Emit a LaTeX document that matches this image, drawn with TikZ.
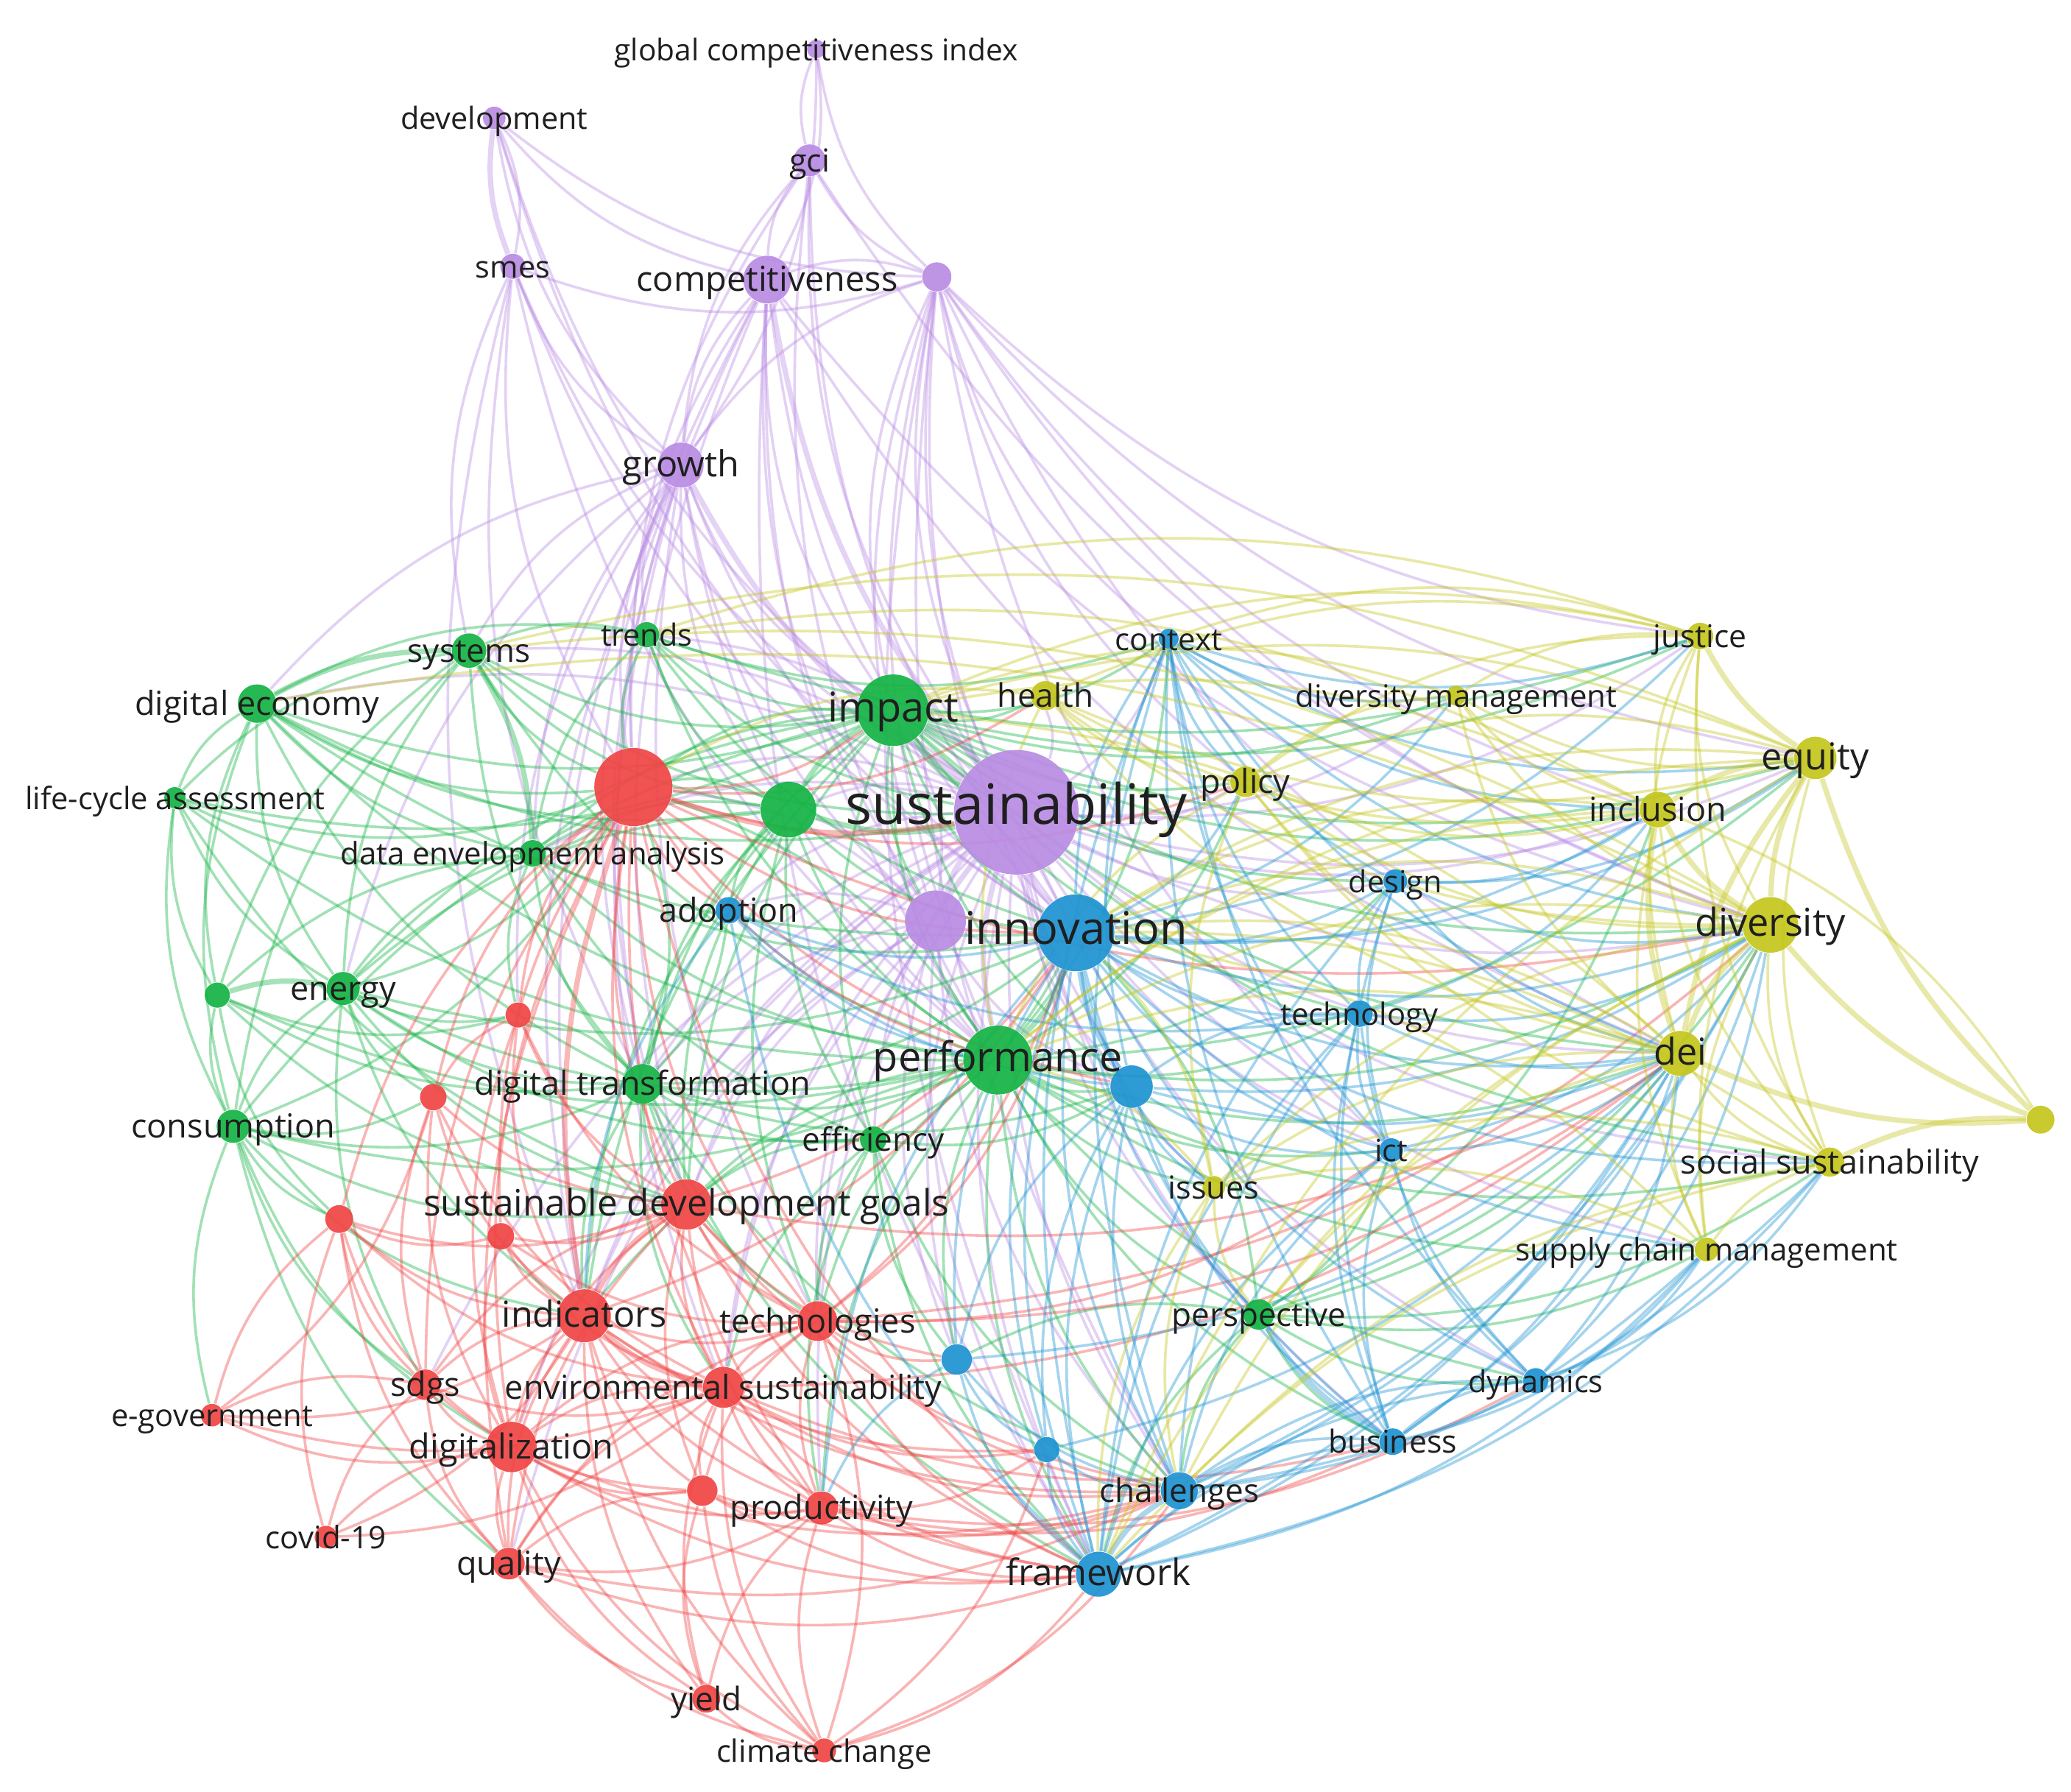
\documentclass[tikz,border=0pt]{standalone}
\usepackage{fontspec}
\setmainfont{Open Sans}
\pgfdeclarelayer{background}
\pgfdeclarelayer{foreground}
\pgfsetlayers{background,main,foreground}
\definecolor{cP}{RGB}{186,140,228}
\definecolor{cG}{RGB}{22,180,70}
\definecolor{cB}{RGB}{32,148,210}
\definecolor{cY}{RGB}{196,198,30}
\definecolor{cR}{RGB}{240,70,70}
\tikzset{
  kwnode/.style={circle, inner sep=0pt, draw=none, fill opacity=0.93},
  lab/.style={font=\fontsize{#1pt}{#1pt}\selectfont, text=black!88, inner sep=0pt, text height=0.72em, text depth=0.02em},
  edge/.style={opacity=0.4, line width=0.8pt},
  eP/.style={edge, draw=cP},
  eG/.style={edge, draw=cG},
  eB/.style={edge, draw=cB},
  eY/.style={edge, draw=cY},
  eR/.style={edge, draw=cR},
  thick edge/.style={line width=1.6pt, opacity=0.38}
}
% one unit = 0.4pt; sizes given in units are scaled by 0.4
\newcommand{\kw}[7]{%
  \pgfmathsetmacro\kwdiam{#5*0.4}%
  \pgfmathsetmacro\kwfs{#6*0.4}%
  \node[kwnode, fill=#2, minimum size=\kwdiam pt] (#1) at (#3,#4) {};
  \begin{pgfonlayer}{foreground}\node[lab=\kwfs] (#1-l) at (#3,#4) {#7};\end{pgfonlayer}}
\begin{document}
\begin{tikzpicture}[x=0.4pt,y=-0.4pt]
\useasboundingbox (0,0) rectangle (1563,1352.4);
% ---------- nodes ----------
% purple
\kw{gcix}{cP}{616}{37}{14}{22.6}{global competitiveness index}
\kw{dev}{cP}{373}{89}{17}{23}{development}
\kw{gci}{cP}{611}{121}{24}{24}{gci}
\kw{smes}{cP}{387}{201}{19}{23}{smes}
\kw{comp}{cP}{579}{211}{36}{26}{competitiveness}
\kw{p1}{cP}{707}{209}{22}{10}{}
\kw{growth}{cP}{514}{351}{34}{27}{growth}
\kw{sust}{cP}{767}{613}{94}{42}{sustainability}
\kw{p2}{cP}{706}{695}{46}{10}{}
% green
\kw{trends}{cG}{488}{479}{19}{23}{trends}
\kw{systems}{cG}{354}{491}{26}{24.5}{systems}
\kw{digeco}{cG}{194}{531}{29}{25}{digital economy}
\kw{impact}{cG}{674}{536}{54}{31}{impact}
\kw{lca}{cG}{132}{602}{16}{23.2}{life-cycle assessment}
\kw{g1}{cG}{595}{611}{42}{10}{}
\kw{dea}{cG}{402}{644}{20}{23.3}{data envelopment analysis}
\kw{g2}{cG}{164}{751}{19}{10}{}
\kw{energy}{cG}{259}{746}{25}{25}{energy}
\kw{digtr}{cG}{485}{818}{30}{25}{digital transformation}
\kw{perf}{cG}{753}{800}{52}{31}{performance}
\kw{cons}{cG}{176}{850}{25}{25}{consumption}
\kw{eff}{cG}{659}{860}{20}{24.5}{efficiency}
\kw{persp}{cG}{950}{992}{23}{24.5}{perspective}
% red
\kw{r1}{cR}{478}{594}{59}{10}{}
\kw{r2}{cR}{391}{766}{19}{10}{}
\kw{r3}{cR}{327}{828}{20}{10}{}
\kw{sdg}{cR}{518}{909}{38}{27.5}{sustainable development goals}
\kw{r4}{cR}{256}{920}{21}{10}{}
\kw{r5}{cR}{378}{933}{20}{10}{}
\kw{ind}{cR}{441}{993}{40}{27}{indicators}
\kw{tech}{cR}{617}{997}{30}{25}{technologies}
\kw{sdgs}{cR}{321}{1045}{23}{25}{sdgs}
\kw{envs}{cR}{546}{1047}{31}{25}{environmental sustainability}
\kw{egov}{cR}{160}{1068}{17}{23.2}{e-government}
\kw{digi}{cR}{386}{1092}{38}{26}{digitalization}
\kw{r6}{cR}{530}{1125}{23}{10}{}
\kw{prod}{cR}{620}{1138}{25}{25}{productivity}
\kw{covid}{cR}{246}{1160}{17}{23.4}{covid-19}
\kw{qual}{cR}{384}{1180}{24}{25}{quality}
\kw{yield}{cR}{533}{1282}{21}{24.5}{yield}
\kw{clim}{cR}{622}{1321}{18}{23.2}{climate change}
% blue
\kw{context}{cB}{882}{482}{15}{23.3}{context}
\kw{adopt}{cB}{550}{687}{20}{25}{adoption}
\kw{innov}{cB}{812}{704}{58}{34}{innovation}
\kw{design}{cB}{1053}{665}{18}{23}{design}
\kw{techn}{cB}{1026}{765}{20}{23.2}{technology}
\kw{b1}{cB}{854}{820}{32}{10}{}
\kw{ict}{cB}{1050}{868}{18}{23}{ict}
\kw{b2}{cB}{722}{1026}{23}{10}{}
\kw{dyn}{cB}{1159}{1042}{19}{23}{dynamics}
\kw{bus}{cB}{1051}{1088}{20}{23.8}{business}
\kw{b3}{cB}{790}{1094}{19}{10}{}
\kw{chall}{cB}{890}{1125}{28}{24.5}{challenges}
\kw{frame}{cB}{829}{1188}{34}{27.5}{framework}
% yellow
\kw{justice}{cY}{1283}{480}{20}{23.7}{justice}
\kw{health}{cY}{789}{525}{22}{24.5}{health}
\kw{divm}{cY}{1099}{525}{15}{23.3}{diversity management}
\kw{equity}{cY}{1370}{572}{32}{28}{equity}
\kw{policy}{cY}{940}{590}{23}{25}{policy}
\kw{incl}{cY}{1251}{611}{27}{25}{inclusion}
\kw{div}{cY}{1336}{698}{42}{29}{diversity}
\kw{dei}{cY}{1268}{795}{34}{28}{dei}
\kw{y1}{cY}{1540}{845}{21}{10}{}
\kw{socs}{cY}{1381}{877}{22}{25}{social sustainability}
\kw{issues}{cY}{916}{896}{17}{24}{issues}
\kw{scm}{cY}{1288}{943}{18}{23.4}{supply chain management}
% ---------- edges ----------
\begin{pgfonlayer}{background}
\fill[white] (0,0) rectangle (1563,1352.4);
% purple
\foreach \a/\b in {gcix/gci, comp/gcix, growth/gcix, gcix/p1, gci/comp, gci/p1, gci/growth, gci/sust, gci/innov, gci/r1, gci/div, gci/perf,
  smes/dev, dev/comp, dev/sust, dev/growth, dev/innov, dev/p1, smes/p1, smes/growth, smes/sust, smes/r1, smes/innov, smes/perf, smes/systems, smes/digtr, smes/ind,
  p1/comp, comp/growth, comp/impact, comp/innov, comp/perf, comp/p2, comp/r1, comp/ind, comp/sdg, comp/frame, comp/digtr, comp/div, comp/dei,
  p1/growth, p1/sust, p1/innov, p1/perf, p1/impact, p1/frame, p1/div, p1/p2, p1/b1, p1/chall, p1/ict, p1/equity, p1/dei, p1/incl, p1/justice, p1/context, p1/policy,
  growth/impact, growth/innov, growth/perf, growth/r1, growth/sdg, growth/ind, growth/digtr, growth/p2, growth/systems, growth/trends, growth/digeco, growth/g1, growth/tech, growth/envs, growth/dea, growth/energy, growth/r2,
  sust/div, sust/equity, sust/incl, sust/dei, sust/socs, sust/frame, sust/chall, sust/ind, sust/sdg, sust/r1, sust/g1, sust/digtr, sust/policy, sust/health, sust/tech, sust/envs, sust/digi, sust/prod, sust/context, sust/design, sust/ict, sust/b1, sust/scm, sust/justice, sust/divm, sust/bus,
  sust/dyn, sust/persp, sust/issues, sust/b2, sust/adopt, sust/eff, sust/dea, sust/systems, sust/digeco, sust/trends, sust/qual, sust/sdgs,
  p2/innov, p2/perf, p2/impact, p2/r1, p2/g1, p2/sdg, p2/ind, p2/frame, p2/chall, p2/b1, p2/b2, p2/digtr, p2/tech, p2/envs, p2/adopt}
  \draw[eP] (\a) to[bend right=18] (\b);
\foreach \a/\b in {comp/sust, growth/sust, sust/innov, sust/impact, sust/p2, sust/perf, dev/smes}
  \draw[eP, thick edge] (\a) to[bend right=14] (\b);
% green
\foreach \a/\b in {trends/systems, trends/impact, trends/r1, trends/digeco, trends/g1, trends/sust, trends/dea, trends/perf, trends/innov, trends/justice, trends/context,
  systems/impact, systems/r1, systems/energy, systems/cons, systems/lca, systems/g1, systems/digtr, systems/g2, systems/perf, systems/sust,
  digeco/lca, digeco/impact, digeco/energy, digeco/g2, digeco/r1, digeco/dea, digeco/cons, digeco/digtr, digeco/g1, digeco/innov, digeco/perf, digeco/sust,
  lca/energy, lca/g2, lca/cons, lca/dea, lca/r1, lca/impact, lca/perf, lca/sdg,
  impact/innov, impact/perf, impact/r1, impact/context, impact/health, impact/policy, impact/dea, impact/energy, impact/digtr, impact/eff, impact/cons, impact/design, impact/div, impact/equity, impact/incl, impact/sdg, impact/ind, impact/techn, impact/b1, impact/p2,
  impact/dei, impact/socs, impact/justice, impact/divm,
  g1/r1, g1/perf, g1/innov, g1/dea, g1/digtr, g1/sdg, g1/energy, g1/eff, g1/adopt, g1/ind, g1/tech,
  dea/r1, dea/energy, dea/eff, dea/digtr, dea/perf, dea/g2, dea/r2, dea/innov,
  g2/cons, g2/r2, g2/r4, g2/perf, g2/digtr, g2/sdg,
  energy/cons, energy/r1, energy/digtr, energy/perf, energy/r2, energy/sdg, energy/eff, energy/r3, energy/innov, energy/ind, energy/sdgs,
  digtr/perf, digtr/innov, digtr/r1, digtr/sdg, digtr/ind, digtr/eff, digtr/tech, digtr/adopt, digtr/envs, digtr/b1, digtr/r2, digtr/frame, digtr/chall,
  perf/b1, perf/eff, perf/frame, perf/chall, perf/ict, perf/techn, perf/persp, perf/div, perf/dei, perf/equity, perf/issues, perf/policy, perf/context, perf/r1, perf/tech, perf/prod, perf/sdg, perf/ind, perf/b2, perf/bus, perf/design,
  perf/socs, perf/scm, perf/dyn,
  cons/r4, cons/sdg, cons/r1, cons/ind, cons/egov, cons/qual, cons/r3, cons/digtr, cons/perf, cons/sdgs, cons/digi,
  eff/tech, eff/prod, eff/envs, eff/b1, eff/innov, eff/sdg, eff/frame, eff/chall, eff/b2,
  persp/chall, persp/frame, persp/bus, persp/dei, persp/div, persp/innov, persp/ict, persp/b2, persp/dyn, persp/incl, persp/scm, persp/socs}
  \draw[eG] (\a) to[bend right=18] (\b);
\foreach \a/\b in {systems/digeco, impact/g1, impact/sust, dea/systems, energy/g2, perf/innov, g1/sust}
  \draw[eG, thick edge] (\a) to[bend right=14] (\b);
% red
\foreach \a/\b in {r1/sdg, r1/innov, r1/digi, r1/tech, r1/envs, r1/r2, r1/r3, r1/sdgs, r1/adopt, r1/prod, r1/policy, r1/health, r1/div, r1/r5, r1/r4, r1/frame, r1/qual,
  r1/impact, r1/perf, r1/b1,
  r2/ind, r2/sdg, r2/r3, r2/digi, r2/tech, r3/ind, r3/sdgs, r3/digi, r3/sdg, r3/envs,
  r4/ind, r4/sdgs, r4/egov, r4/digi, r4/covid, r4/r5, r4/qual, r4/sdg, r4/envs,
  r5/ind, r5/digi, r5/sdg, r5/envs, r5/tech,
  sdg/tech, sdg/envs, sdg/digi, sdg/sdgs, sdg/prod, sdg/innov, sdg/b2, sdg/r6, sdg/frame, sdg/qual, sdg/chall, sdg/dei,
  ind/tech, ind/digi, ind/sdgs, ind/qual, ind/r6, ind/prod, ind/innov, ind/frame, ind/yield, ind/clim, ind/chall, ind/b3,
  tech/envs, tech/prod, tech/r6, tech/innov, tech/b2, tech/chall, tech/frame, tech/qual, tech/digi, tech/dei, tech/div, tech/ict,
  sdgs/digi, sdgs/envs, sdgs/egov, sdgs/qual, sdgs/r6, sdgs/covid,
  envs/digi, envs/r6, envs/prod, envs/qual, envs/frame, envs/chall, envs/b3, envs/innov, envs/clim, envs/yield, envs/dei, envs/bus,
  egov/digi, egov/r3, egov/envs, egov/ind,
  digi/qual, digi/covid, digi/r6, digi/prod, digi/yield, digi/clim, digi/frame, digi/chall,
  r6/prod, r6/yield, r6/clim, r6/qual, r6/frame, r6/chall, prod/clim, prod/yield, prod/frame, prod/chall, prod/b3, prod/bus, prod/dyn,
  covid/ind, covid/envs, qual/yield, qual/clim, qual/prod, qual/frame, qual/chall, yield/clim, clim/frame, clim/tech, clim/chall, clim/b3}
  \draw[eR] (\a) to[bend right=18] (\b);
\foreach \a/\b in {r1/ind, sdg/ind, ind/envs, r1/sust}
  \draw[eR, thick edge] (\a) to[bend right=14] (\b);
% blue
\foreach \a/\b in {context/innov, context/design, context/techn, context/ict, context/b1, context/frame, context/div, context/incl, context/chall, context/bus,
  context/dei, context/equity, context/justice, context/divm, context/policy, context/dyn,
  adopt/innov, adopt/perf, adopt/techn, adopt/b1, adopt/frame, adopt/ind,
  innov/design, innov/techn, innov/ict, innov/frame, innov/chall, innov/bus, innov/dyn, innov/b2, innov/b3, innov/div, innov/dei, innov/equity, innov/policy, innov/issues, innov/persp, innov/incl, innov/socs, innov/scm, innov/prod,
  innov/justice, innov/divm,
  design/techn, design/ict, design/div, design/incl, design/frame, design/bus, design/dei, design/equity,
  techn/ict, techn/bus, techn/frame, techn/chall, techn/dyn, techn/div, techn/b1, techn/dei, techn/incl,
  b1/frame, b1/chall, b1/ict, b1/b3, b1/issues, b1/b2, b1/bus, b1/div, b1/dei,
  ict/bus, ict/dyn, ict/frame, ict/chall, ict/dei, ict/div,
  b2/frame, b2/chall, b2/b3, b2/prod, b2/dei, dyn/bus, dyn/frame, dyn/chall, dyn/div, dyn/dei, dyn/scm, dyn/socs,
  bus/frame, bus/chall, bus/dei, bus/div, b3/frame, b3/chall, b3/dei, frame/dei, frame/div, frame/scm, frame/socs, chall/dei, chall/scm, chall/socs, chall/div, bus/scm}
  \draw[eB] (\a) to[bend right=18] (\b);
\foreach \a/\b in {chall/frame, innov/b1, persp/bus}
  \draw[eB, thick edge] (\a) to[bend right=14] (\b);
% yellow
\foreach \a/\b in {justice/incl, justice/div, justice/dei, justice/divm, justice/policy, justice/health, justice/socs, justice/impact, justice/trends, justice/context,
  health/policy, health/equity, health/incl, health/div, health/dei, health/perf, health/r1,
  divm/div, divm/incl, divm/equity, divm/dei, divm/policy, divm/impact,
  equity/socs, equity/policy, equity/scm, equity/systems, equity/innov, equity/frame, equity/perf, equity/impact,
  policy/incl, policy/div, policy/dei, policy/socs, policy/issues, policy/perf,
  incl/socs, incl/scm, incl/impact, incl/trends, incl/perf, incl/innov,
  div/socs, div/scm, div/issues, div/systems, div/digeco, div/frame, div/chall, div/perf, div/innov,
  dei/socs, dei/scm, dei/issues, dei/persp, dei/impact, dei/perf, dei/innov,
  socs/scm, socs/issues, socs/frame, socs/chall, socs/innov, scm/issues, scm/innov, issues/persp, issues/frame, issues/chall, issues/innov, issues/perf,
  y1/incl}
  \draw[eY] (\a) to[bend right=18] (\b);
\foreach \a/\b in {justice/equity, equity/incl, equity/div, equity/dei, incl/div, incl/dei, div/dei, div/y1, dei/y1, y1/socs, equity/y1}
  \draw[eY, thick edge] (\a) to[bend right=14] (\b);
\end{pgfonlayer}
\end{tikzpicture}
\end{document}
